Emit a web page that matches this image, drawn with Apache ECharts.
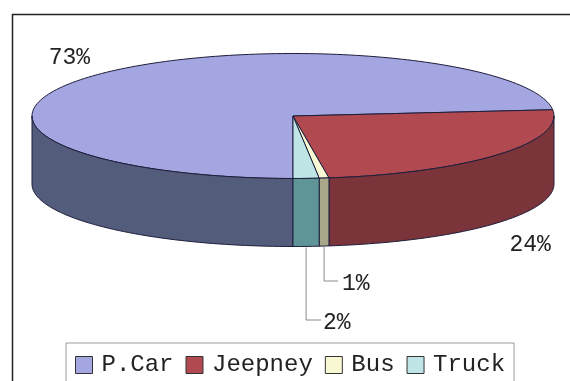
<!DOCTYPE html>
<html>
<head>
<meta charset="utf-8">
<script src="https://cdn.jsdelivr.net/npm/echarts@6/dist/echarts.min.js"></script>
<style>html,body{margin:0;padding:0;background:#fff;}#c{width:570px;height:381px;}</style>
</head>
<body>
<div id="c"></div>
<script>
// ---- data ----
const categories = ['P.Car', 'Jeepney', 'Bus', 'Truck'];
const shares = [73.4, 24.4, 0.6, 1.6];   // percent shares (labels shown rounded)

// ---- styles ----
const topColors  = ['#a3a6e0', '#b04a50', '#f8f8d2', '#bfe5e7'];
const sideColors = ['#535d7b', '#7b343a', '#aaa88a', '#5f9597'];
const edge = '#1e1e3c';
const FONT = '"Liberation Mono", "Courier New", monospace';
// layout of the pseudo-3D ellipse
const G = { cx: 293, cy: 116, rx: 261, ry: 62.5, depth: 68, startDeg: 180 };
// label placement per slice: offset from rim anchor, or leader line
const labelLayout = [
  { dx: -30, dy: -16 },
  { dx: 32, dy: 22 },
  { leaderY: 281, leaderX2: 338, textX: 342 },
  { leaderY: 320, leaderX2: 321, textX: 323 }
];

const total = shares.reduce((a, b) => a + b, 0);
const cum = [];
shares.reduce((acc, v, i) => { cum[i] = acc; return acc + v; }, 0);

function pt(a, dy) {
  const r = a * Math.PI / 180;
  return [G.cx + G.rx * Math.sin(r), G.cy - G.ry * Math.cos(r) + (dy || 0)];
}
function arc(a0, a1, dy) {
  const n = Math.max(2, Math.ceil(Math.abs(a1 - a0) / 1.5));
  const out = [];
  for (let k = 0; k <= n; k++) out.push(pt(a0 + (a1 - a0) * k / n, dy));
  return out;
}

function makeRender(i) {
  return function (params, api) {
    const start = api.value(0), val = api.value(1), tot = api.value(2);
    const a0 = G.startDeg + 360 * start / tot;
    const a1 = a0 + 360 * val / tot;
    const children = [];
    // top face
    children.push({
      type: 'polygon',
      shape: { points: [[G.cx, G.cy]].concat(arc(a0, a1, 0)) },
      style: { fill: topColors[i], stroke: edge, lineWidth: 1 }
    });
    // front side walls (visible range 90..270 deg)
    for (let k = 0; k <= 1; k++) {
      const s = Math.max(a0, 90 + 360 * k), e = Math.min(a1, 270 + 360 * k);
      if (e > s) {
        const pts = arc(s, e, 0).concat(arc(e, s, G.depth));
        children.push({
          type: 'polygon',
          shape: { points: pts },
          style: { fill: sideColors[i], stroke: edge, lineWidth: 1 }
        });
      }
    }
    // label
    const mid = (a0 + a1) / 2;
    const m = ((mid % 360) + 360) % 360;
    const front = m > 90 && m < 270;
    const anc = pt(mid, front ? G.depth : 0);
    const txt = Math.round(100 * val / tot) + '%';
    const L = labelLayout[i];
    if (L.leaderY !== undefined) {
      children.push({
        type: 'polyline',
        shape: { points: [[anc[0], anc[1] + 1], [anc[0], L.leaderY], [L.leaderX2, L.leaderY]] },
        style: { stroke: '#8a8a8a', lineWidth: 1, fill: null }
      });
      children.push({
        type: 'text',
        style: { text: txt, x: L.textX, y: L.leaderY + 3, fill: '#222', fontSize: 23, fontFamily: FONT,
                 align: 'left', verticalAlign: 'middle' }
      });
    } else {
      children.push({
        type: 'text',
        style: { text: txt, x: anc[0] + L.dx, y: anc[1] + L.dy, fill: '#222', fontSize: 23, fontFamily: FONT,
                 align: 'center', verticalAlign: 'middle' }
      });
    }
    return { type: 'group', children: children };
  };
}

const chart = echarts.init(document.getElementById('c'), null, { renderer: 'canvas' });
chart.setOption({
  backgroundColor: '#ffffff',
  animation: false,
  graphic: [{
    type: 'rect', left: 10, top: 12, silent: true,
    shape: { x: 0, y: 0, width: 600, height: 420 },
    style: { fill: null, stroke: '#222', lineWidth: 1.5 }
  }],
  legend: {
    data: categories,
    left: 66, top: 343,
    orient: 'horizontal',
    icon: 'rect',
    itemWidth: 17, itemHeight: 17, itemGap: 12,
    padding: [10, 9, 10, 9],
    borderColor: '#9a9a9a', borderWidth: 1,
    backgroundColor: '#ffffff',
    selectedMode: false,
    itemStyle: { borderColor: '#333', borderWidth: 1 },
    textStyle: { fontFamily: FONT, fontSize: 24, color: '#222', padding: [0, 0, 0, 4] }
  },
  series: categories.map((name, i) => ({
    type: 'custom',
    name: name,
    coordinateSystem: 'none',
    silent: true,
    itemStyle: { color: topColors[i] },
    data: [[cum[i], shares[i], total]],
    renderItem: makeRender(i)
  }))
});
</script>
</body>
</html>
